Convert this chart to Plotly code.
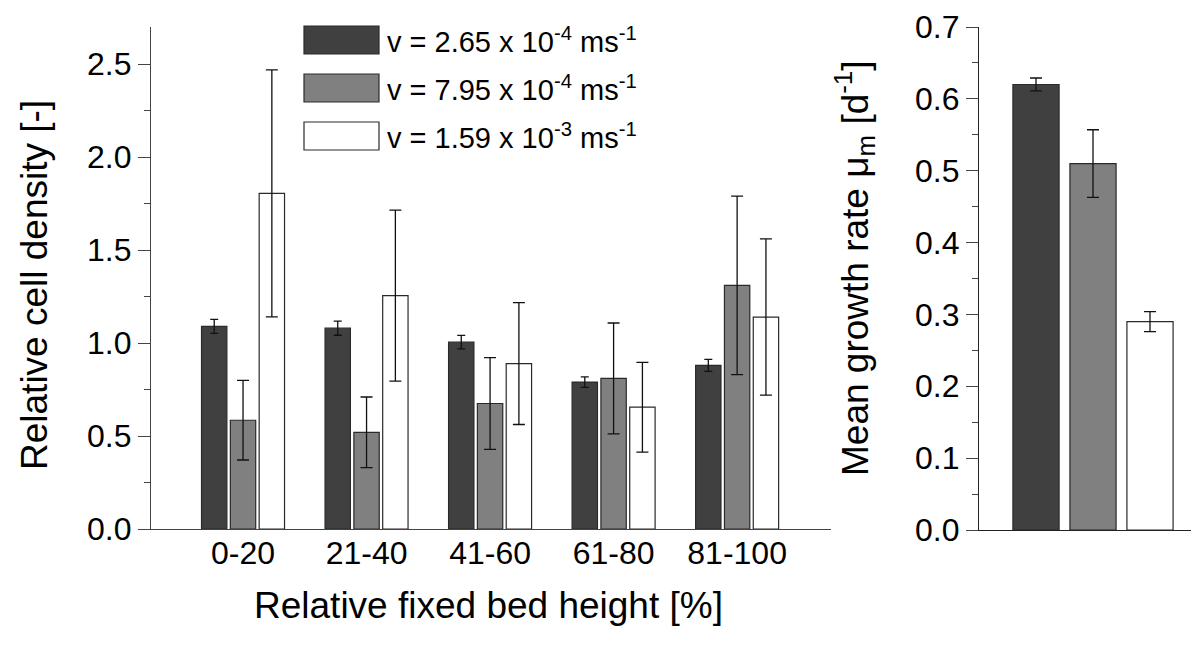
import plotly.graph_objects as go

# ---- data ----
categories = ["0-20", "21-40", "41-60", "61-80", "81-100"]
series_names = [
    "v = 2.65 x 10<sup>-4</sup> ms<sup>-1</sup>",
    "v = 7.95 x 10<sup>-4</sup> ms<sup>-1</sup>",
    "v = 1.59 x 10<sup>-3</sup> ms<sup>-1</sup>",
]
density_v1 = [1.09, 1.08, 1.005, 0.79, 0.88]
density_v1_err = [0.038, 0.038, 0.036, 0.028, 0.032]
density_v2 = [0.585, 0.52, 0.675, 0.81, 1.31]
density_v2_err = [0.214, 0.19, 0.247, 0.298, 0.48]
density_v3 = [1.805, 1.255, 0.89, 0.655, 1.14]
density_v3_err = [0.664, 0.46, 0.328, 0.241, 0.42]

growth_labels = ["v1", "v2", "v3"]
growth_rate = [0.620, 0.510, 0.290]
growth_err = [0.009, 0.047, 0.014]

x_title = "Relative fixed bed height [%]"
y_title = "Relative cell density [-]"
y2_title = "Mean growth rate \u03bc<sub>m</sub> [d<sup>-1</sup>]"

colors = ["#404040", "#808080", "#ffffff"]
FONT = "Liberation Sans, Arial, sans-serif"
W, H = 1199, 646
OFF = 8  # page body margin of the rendered html

def px(x):
    return (x - OFF) / W

def py(y):
    return 1 - (y - OFF) / H

fig = go.Figure()

dens = [density_v1, density_v2, density_v3]
errs = [density_v1_err, density_v2_err, density_v3_err]
capw = [4, 6, 6]
for i in range(3):
    fig.add_trace(go.Bar(
        x=categories, y=dens[i], name=series_names[i],
        marker=dict(color=colors[i], line=dict(color="#2a2a2a", width=1.2)),
        error_y=dict(type="data", array=errs[i], color="#111111", thickness=1.3, width=capw[i]),
        xaxis="x", yaxis="y", showlegend=False,
    ))

for i in range(3):
    fig.add_trace(go.Bar(
        x=[growth_labels[i]], y=[growth_rate[i]],
        marker=dict(color=colors[i], line=dict(color="#2a2a2a", width=1.2)),
        error_y=dict(type="data", array=[growth_err[i]], color="#111111", thickness=1.3, width=6),
        width=0.81,
        xaxis="x2", yaxis="y2", showlegend=False,
    ))

axis_col = "#444444"
tickfont = dict(family=FONT, size=32, color="black")
TITLE_SIZE = 37

fig.update_layout(
    width=W, height=H,
    margin=dict(l=0, r=0, t=0, b=0),
    paper_bgcolor="white", plot_bgcolor="white",
    barmode="group", bargap=0.30, bargroupgap=0.12,
    font=dict(family=FONT, color="black"),
    xaxis=dict(
        domain=[px(151), px(831)], anchor="y", automargin=False,
        type="category", range=[-0.745, 4.76],
        showline=True, linecolor=axis_col, linewidth=1.3,
        ticks="", showgrid=False, zeroline=False,
        tickfont=tickfont, ticklabelstandoff=-5,
    ),
    xaxis3=dict(
        domain=[px(151), px(831)], anchor="y", overlaying="x", automargin=False,
        range=[-0.745, 4.76], tick0=0, dtick=0.5,
        ticks="outside", ticklen=4, tickcolor=axis_col, tickwidth=1.2,
        showticklabels=False, showgrid=False, zeroline=False, showline=False,
    ),
    yaxis=dict(
        domain=[py(529), py(27)], anchor="x", automargin=False,
        range=[0, 2.7], tickvals=[0, 0.5, 1.0, 1.5, 2.0, 2.5],
        ticktext=["0.0", "0.5", "1.0", "1.5", "2.0", "2.5"],
        showline=True, linecolor=axis_col, linewidth=1.3,
        ticks="outside", ticklen=12, tickcolor=axis_col, tickwidth=1.2,
        minor=dict(dtick=0.25, tick0=0, ticks="outside", ticklen=6, tickcolor=axis_col, tickwidth=1.2, showgrid=False),
        showgrid=False, zeroline=False,
        tickfont=tickfont,
    ),
    xaxis2=dict(
        domain=[px(979), 1.0], anchor="y2", automargin=False,
        type="category", range=[-1, 3],
        showline=True, linecolor="#222222", linewidth=1.3,
        ticks="", showticklabels=False, showgrid=False, zeroline=False,
    ),
    yaxis2=dict(
        domain=[py(530), py(27)], anchor="x2", automargin=False,
        range=[0, 0.7], dtick=0.1, tickformat=".1f",
        showline=True, linecolor="#222222", linewidth=1.3,
        ticks="outside", ticklen=12, tickcolor=axis_col, tickwidth=1.2,
        minor=dict(dtick=0.05, tick0=0, ticks="outside", ticklen=6, tickcolor=axis_col, tickwidth=1.2, showgrid=False),
        showgrid=False, zeroline=False,
        tickfont=tickfont,
    ),
)

# axis titles as annotations
fig.add_annotation(xref="paper", yref="paper", x=px(488), y=py(605),
                   xanchor="center", yanchor="middle", showarrow=False,
                   text=x_title, font=dict(family=FONT, size=TITLE_SIZE, color="black"))
fig.add_annotation(xref="paper", yref="paper", x=px(34), y=py(285),
                   xanchor="center", yanchor="middle", showarrow=False, textangle=-90,
                   text=y_title, font=dict(family=FONT, size=TITLE_SIZE, color="black"))
fig.add_annotation(xref="paper", yref="paper", x=px(854), y=py(268),
                   xanchor="center", yanchor="middle", showarrow=False, textangle=-90,
                   text=y2_title, font=dict(family=FONT, size=TITLE_SIZE, color="black"))

# custom legend with wide swatches
leg_tops = [26, 74, 122]
for i in range(3):
    y0, y1 = leg_tops[i], leg_tops[i] + 28
    fig.add_shape(type="rect", xref="paper", yref="paper",
                  x0=px(304), x1=px(379), y0=py(y1), y1=py(y0),
                  fillcolor=colors[i], line=dict(color="#2a2a2a", width=1.2))
    fig.add_annotation(xref="paper", yref="paper", x=px(385), y=py((y0 + y1) / 2),
                       xanchor="left", yanchor="middle", showarrow=False,
                       text=series_names[i], font=dict(family=FONT, size=29, color="black"))

fig.write_html("out.html")
